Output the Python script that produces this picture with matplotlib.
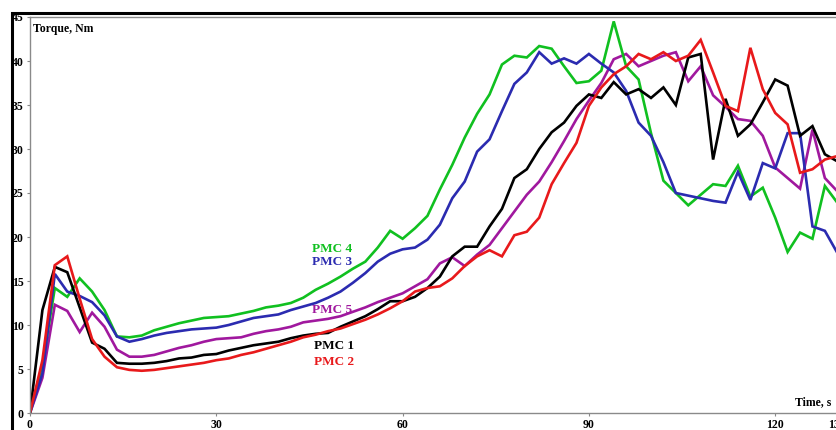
import numpy as np
import matplotlib
matplotlib.use("Agg")
import matplotlib.pyplot as plt
from matplotlib.patches import Rectangle

time_s = list(range(0, 131, 2))

pmc1 = [0, 11.7, 16.6, 16.0, 12.0, 8.0, 7.3, 5.7, 5.6, 5.6,
        5.7, 5.9, 6.2, 6.3, 6.6, 6.7, 7.1, 7.4, 7.7, 7.9,
        8.1, 8.5, 8.8, 9.0, 9.1, 9.8, 10.4, 11.0, 11.8, 12.7,
        12.7, 13.2, 14.2, 15.5, 17.8, 18.9, 18.9, 21.2, 23.2, 26.7,
        27.7, 30.0, 31.9, 33.0, 34.9, 36.2, 35.8, 37.6, 36.2, 36.8,
        35.8, 37.0, 35.0, 40.4, 40.8, 28.8, 35.7, 31.5, 32.8, 35.3,
        37.9, 37.2, 31.5, 32.6, 29.4, 28.6]

pmc2 = [0, 6.0, 16.8, 17.8, 13.0, 8.4, 6.4, 5.2, 4.9, 4.8,
        4.9, 5.1, 5.3, 5.5, 5.7, 6.0, 6.2, 6.6, 6.9, 7.3,
        7.7, 8.1, 8.6, 8.9, 9.3, 9.6, 10.1, 10.6, 11.2, 11.9,
        12.7, 13.8, 14.2, 14.4, 15.3, 16.7, 17.8, 18.5, 17.8, 20.2,
        20.6, 22.2, 26.0, 28.4, 30.7, 34.9, 37.0, 38.5, 39.4, 40.8,
        40.2, 41.0, 40.0, 40.6, 42.4, 38.7, 34.9, 34.3, 41.5, 36.8,
        34.1, 32.8, 27.3, 27.7, 28.8, 29.2]

pmc3 = [0, 4.5, 15.8, 13.8, 13.3, 12.6, 11.1, 8.7, 8.1, 8.4,
        8.8, 9.1, 9.3, 9.5, 9.6, 9.7, 10.0, 10.4, 10.8, 11.0,
        11.2, 11.7, 12.1, 12.5, 13.1, 13.8, 14.8, 15.9, 17.2, 18.1,
        18.6, 18.8, 19.7, 21.4, 24.4, 26.3, 29.7, 31.1, 34.3, 37.4,
        38.7, 41.0, 39.7, 40.3, 39.7, 40.8, 39.7, 38.7, 36.6, 33.0,
        31.5, 28.5, 25.0, 24.7, 24.4, 24.1, 23.9, 27.4, 24.2, 28.4,
        27.8, 31.8, 31.8, 21.2, 20.7, 18.2]

pmc4 = [0, 5.5, 14.2, 13.2, 15.3, 13.8, 11.7, 8.7, 8.6, 8.8,
        9.4, 9.8, 10.2, 10.5, 10.8, 10.9, 11.0, 11.3, 11.6, 12.0,
        12.2, 12.5, 13.1, 14.0, 14.7, 15.5, 16.4, 17.2, 18.8, 20.7,
        19.8, 21.0, 22.4, 25.4, 28.2, 31.3, 34.0, 36.2, 39.6, 40.6,
        40.4, 41.7, 41.4, 39.4, 37.5, 37.7, 38.9, 44.5, 39.4, 37.9,
        31.8, 26.4, 25.0, 23.6, 24.8, 26.0, 25.8, 28.1, 24.6, 25.6,
        22.2, 18.3, 20.5, 19.8, 25.8, 23.9]

pmc5 = [0, 4.0, 12.3, 11.6, 9.2, 11.4, 9.8, 7.2, 6.4, 6.4,
        6.6, 7.0, 7.4, 7.7, 8.1, 8.4, 8.5, 8.6, 9.0, 9.3,
        9.5, 9.8, 10.3, 10.5, 10.7, 11.0, 11.5, 12.0, 12.6, 13.1,
        13.6, 14.4, 15.2, 17.0, 17.7, 16.7, 18.0, 19.1, 21.0, 22.9,
        24.8, 26.3, 28.5, 30.9, 33.4, 35.5, 37.5, 40.2, 40.8, 39.4,
        40.0, 40.6, 41.0, 37.7, 39.4, 36.1, 34.8, 33.4, 33.2, 31.5,
        27.9, 26.7, 25.5, 32.2, 26.7, 25.2]

series_names = ["PMC 1", "PMC 2", "PMC 3", "PMC 4", "PMC 5"]
series_colors = ["#000000", "#e8191b", "#2b2bb0", "#10c020", "#a0189e"]

x_ticks = [0, 30, 60, 90, 120, 130]
y_ticks = [0, 5, 10, 15, 20, 25, 30, 35, 40, 45]

W, H = 837, 430
fig = plt.figure(figsize=(W / 100, H / 100), dpi=100)
fig.patch.set_facecolor("white")

# outer black frame (cropped on right/bottom)
fig.patches.append(Rectangle((12 / W, -0.2), 1.5, (H - 12.5) / H + 0.2,
                             transform=fig.transFigure, fill=False,
                             edgecolor="black", linewidth=2.2, zorder=0))

left = 30 / W
bottom = (H - 413) / H
height = (413 - 17) / H
xmax = 133
width = xmax * 6.21 / W
ax = fig.add_axes([left, bottom, width, height])
ax.set_facecolor("white")

data = [pmc1, pmc2, pmc3, pmc4, pmc5]
order = [4, 3, 2, 0, 1]
for i in order:
    ax.plot(time_s, data[i], color=series_colors[i], linewidth=1.9,
            solid_joinstyle="miter")

ax.set_xlim(0, xmax)
ax.set_ylim(0, 45)
ax.set_xticks(x_ticks)
ax.set_yticks(y_ticks)

font = dict(family="Liberation Serif", weight="bold", size=8.5)
ax.set_xticklabels([str(v) for v in x_ticks], **font)
ax.set_yticklabels([str(v) for v in y_ticks], **font)
ax.tick_params(axis="both", direction="out", length=2.5, width=0.8,
               color="#888888", pad=2)
for s in ["left", "top", "bottom", "right"]:
    ax.spines[s].set_color("#8a8a8a")
    ax.spines[s].set_linewidth(1.0)

ax.text(0.5, 43.6, "Torque, Nm", ha="left", va="center", **font)
ax.text(129.0, 0.6, "Time, s", ha="right", va="bottom", **font)

lab = dict(family="Liberation Serif", weight="bold", size=9.5)
label_pos = {"PMC 4": (48.6, 18.6), "PMC 3": (48.6, 17.2),
             "PMC 5": (48.6, 11.7), "PMC 1": (48.9, 7.6),
             "PMC 2": (48.9, 5.8)}
for name, col in zip(series_names, series_colors):
    x, y = label_pos[name]
    ax.text(x, y, name, color=col, ha="center", va="center", **lab)

fig.savefig("out.png", dpi=100)
